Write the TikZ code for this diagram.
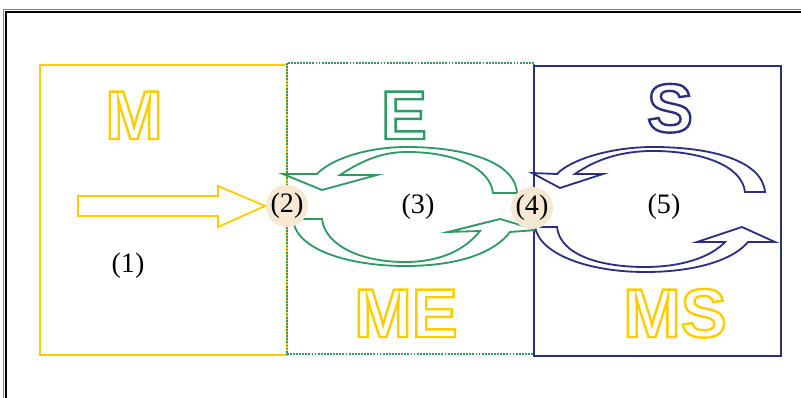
\documentclass[tikz,border=0pt]{standalone}
\usepackage{fontspec}
\setmainfont{Liberation Serif}
\newfontfamily\blockfont{Liberation Sans}
\usetikzlibrary{positioning}

\definecolor{mYellow}{HTML}{FFCC00}
\definecolor{eGreen}{HTML}{2E9A62}
\definecolor{sNavy}{HTML}{2B2F80}
\definecolor{hubFill}{HTML}{F6E8D2}

% hollow letters: stroke the glyph outlines only
\newcommand{\hollow}[1]{\special{pdf:literal direct 1 Tr 1.7 w}#1\special{pdf:literal direct 0 Tr}}

\begin{document}
\begin{tikzpicture}[x=0.025cm,y=-0.025cm,
  every node/.style={font=\fontsize{20}{22}\selectfont},
  word/.style={anchor=base,inner sep=0pt,font=\blockfont\bfseries\fontsize{49}{50}\selectfont},
  hub/.style={circle,fill=hubFill,minimum size=1.05cm,inner sep=0pt},
  zone/.style={line width=1.3pt},
  band/.style={line width=1.3pt,line join=miter,fill=white}]
\useasboundingbox (0,0) rectangle (801,398);
% page frame
\draw[gray,line width=0.6pt] (3,405) |- (810,9);
\draw[black,line width=1.8pt] (6,405) |- (810,12);

% the three zones
\draw[zone,mYellow] (40,65) rectangle (287,355);
\draw[zone,eGreen,dash pattern=on 1.3pt off 0.9pt] (287,63) rectangle (534,354);
\draw[zone,sNavy] (534,66) rectangle (781,356);

\node[word] (m) at (134,139) {\color{mYellow}\hollow{M}};
\node[word] (e) at (404,139) {\color{eGreen}\hollow{E}};
\node[word] (s) at (670,132) {\color{sNavy}\hollow{S}};
\node[word] (me) at (406,337) {\color{mYellow}\hollow{ME}};
\node[word] (ms) at (675,337) {\color{mYellow}\hollow{MS}};

% input arrow
\draw[band,draw=mYellow] (78,196) -- (218,196) -- (218,186) -- (265,206)
  -- (218,227) -- (218,216) -- (78,216) -- cycle;

% exchange loop in the middle zone
\draw[band,draw=eGreen] (517,193) .. controls (515,160) and (460,147) .. (407,147)
  .. controls (365,147) and (330,160) .. (317,174) -- (283,174) -- (322,190)
  -- (377,175) -- (340,175) .. controls (360,162) and (380,152) .. (407,152)
  .. controls (455,152) and (490,168) .. (493,193) -- cycle;
\draw[band,draw=eGreen] (293,219) .. controls (295,250) and (350,266) .. (405,266)
  .. controls (460,266) and (495,252) .. (510,232) -- (537,230) -- (500,219)
  -- (448,232) -- (480,231) .. controls (465,250) and (440,262) .. (405,262)
  .. controls (360,262) and (325,245) .. (322,219) -- cycle;

% loop in the right zone
\draw[band,draw=sNavy] (765,192) .. controls (762,160) and (710,147) .. (653,147)
  .. controls (610,147) and (570,160) .. (557,174) -- (532,173) -- (560,188)
  -- (603,174) -- (575,174) .. controls (595,160) and (620,151) .. (653,151)
  .. controls (700,151) and (742,165) .. (745,192) -- cycle;
\draw[band,draw=sNavy] (535,227) .. controls (540,255) and (590,272) .. (645,272)
  .. controls (700,272) and (735,258) .. (748,242) -- (775,242) -- (742,227)
  -- (697,242) -- (725,242) .. controls (710,258) and (680,267) .. (645,267)
  .. controls (600,267) and (560,255) .. (557,227) -- cycle;

% numbered points
\node (one) at (128,266) {(1)};
\node (three) at (418,207) {(3)};
\node (five) at (664,207) {(5)};
\node[hub] (two) at (287,206) {(2)};
\node[hub] (four) at (532,208) {(4)};
\end{tikzpicture}
\end{document}
